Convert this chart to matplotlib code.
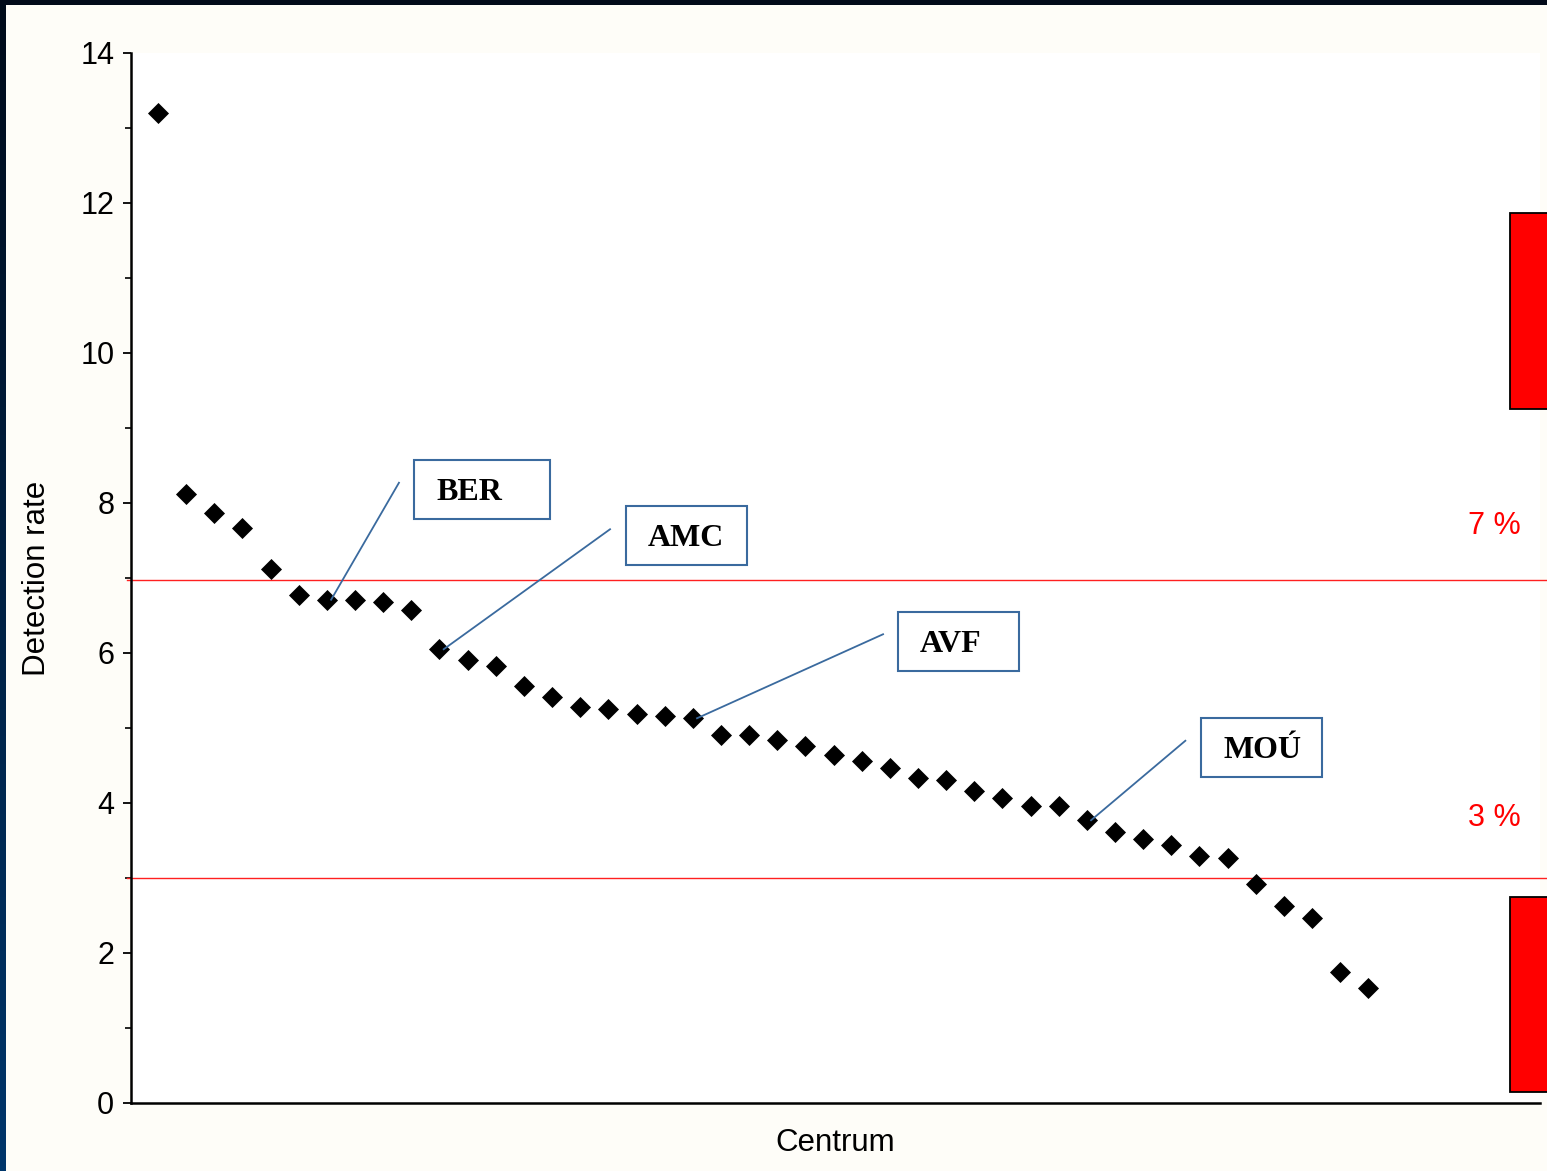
import numpy as np
import matplotlib
matplotlib.use('Agg')
import matplotlib.pyplot as plt
from matplotlib.patches import Rectangle

plt.rcParams['font.family'] = ['Liberation Sans', 'DejaVu Sans']

# detection rate per centre, sorted descending
rates = [13.2, 8.12, 7.87, 7.67, 7.12, 6.77, 6.71, 6.71, 6.68, 6.57,
         6.05, 5.91, 5.83, 5.56, 5.41, 5.28, 5.25, 5.19, 5.16, 5.13,
         4.91, 4.91, 4.84, 4.76, 4.64, 4.56, 4.47, 4.33, 4.31, 4.16,
         4.07, 3.96, 3.96, 3.77, 3.61, 3.52, 3.44, 3.29, 3.27, 2.92,
         2.63, 2.47, 1.75, 1.53]
centres = np.arange(1, len(rates) + 1)

limits = [6.97, 3.0]
limit_labels = ['7 %', '3 %']
limit_label_y = [7.7, 3.8]

# labelled centres: name, index of centre, end of leader line, box corner, box width
labels = ['BER', 'AMC', 'AVF', 'MOÚ']
label_idx = [7, 11, 20, 34]
leader_end = [(9.56, 8.27), (17.06, 7.65), (26.76, 6.25), (37.5, 4.83)]
box_xy = [(10.1, 7.79), (17.63, 7.17), (27.3, 5.76), (38.07, 4.35)]
box_w = [4.83, 4.28, 4.3, 4.28]
box_h = 0.79

bg = '#fefdf8'
fig = plt.figure(figsize=(15.47, 11.71), dpi=100, facecolor=bg)
ax = fig.add_axes([131 / 1547, 1 - 1103 / 1171, (1540 - 131) / 1547, 1050 / 1171])
ax.set_facecolor('white')

ax.scatter(centres, rates, marker='D', s=115, color='black', zorder=5, linewidths=0)

for y, t, ty in zip(limits, limit_labels, limit_label_y):
    ax.axhline(y, color='#ff2020', lw=1.0, zorder=2, clip_on=False, xmin=-0.003, xmax=1.01)
    ax.text(47.55, ty, t, color='red', fontsize=22, ha='left', va='center')

blue = '#3a6a9e'
for name, i, (lx, ly), (bx, by), w in zip(labels, label_idx, leader_end, box_xy, box_w):
    ax.plot([centres[i - 1] + 0.15, lx], [rates[i - 1], ly], color=blue, lw=1.3, zorder=6)
    ax.add_patch(Rectangle((bx, by), w, box_h,
                           facecolor='white', edgecolor=blue, lw=1.5, zorder=4))
    ax.text(bx + 0.78, by + box_h / 2 - 0.04, name, fontsize=23, fontweight='bold',
            family=['Liberation Serif', 'DejaVu Serif'], ha='left', va='center', zorder=7)

# red bars at right edge
ax.add_patch(Rectangle((49.02, 9.25), 2.0, 2.62, facecolor='red', edgecolor='black',
                       lw=1.3, clip_on=False, zorder=3))
ax.add_patch(Rectangle((49.02, 0.15), 2.0, 2.6, facecolor='red', edgecolor='black',
                       lw=1.3, clip_on=False, zorder=3))

ax.set_xlim(0.04, 50.1)
ax.set_ylim(0, 14)
ax.set_yticks(np.arange(0, 15, 2))
ax.set_yticks(np.arange(1, 14, 2), minor=True)
ax.set_xticks([])
ax.tick_params(axis='y', which='major', length=6, width=1.3, labelsize=22, pad=6)
ax.tick_params(axis='y', which='minor', length=4, width=1.2)
for s in ['top', 'right']:
    ax.spines[s].set_visible(False)
ax.spines['left'].set_linewidth(1.8)
ax.spines['bottom'].set_linewidth(1.8)
ax.set_ylabel('Detection rate', fontsize=22.5, labelpad=20)
ax.set_xlabel('Centrum', fontsize=22.5, labelpad=18)

# dark frame strips on top and left
strip = fig.add_axes([0, 0, 6 / 1547, 1])
grad = np.linspace(0, 1, 256).reshape(-1, 1)
cmap = matplotlib.colors.LinearSegmentedColormap.from_list('nv', ['#00366b', '#010b1a'])
strip.imshow(grad, aspect='auto', cmap=cmap, origin='lower', extent=[0, 1, 0, 1])
strip.axis('off')
top = fig.add_axes([0, 1 - 5 / 1171, 1, 5 / 1171])
top.set_facecolor('#020b1a')
top.set_xticks([])
top.set_yticks([])
for s in top.spines.values():
    s.set_visible(False)

fig.savefig('out.png', dpi=100, facecolor=bg)
